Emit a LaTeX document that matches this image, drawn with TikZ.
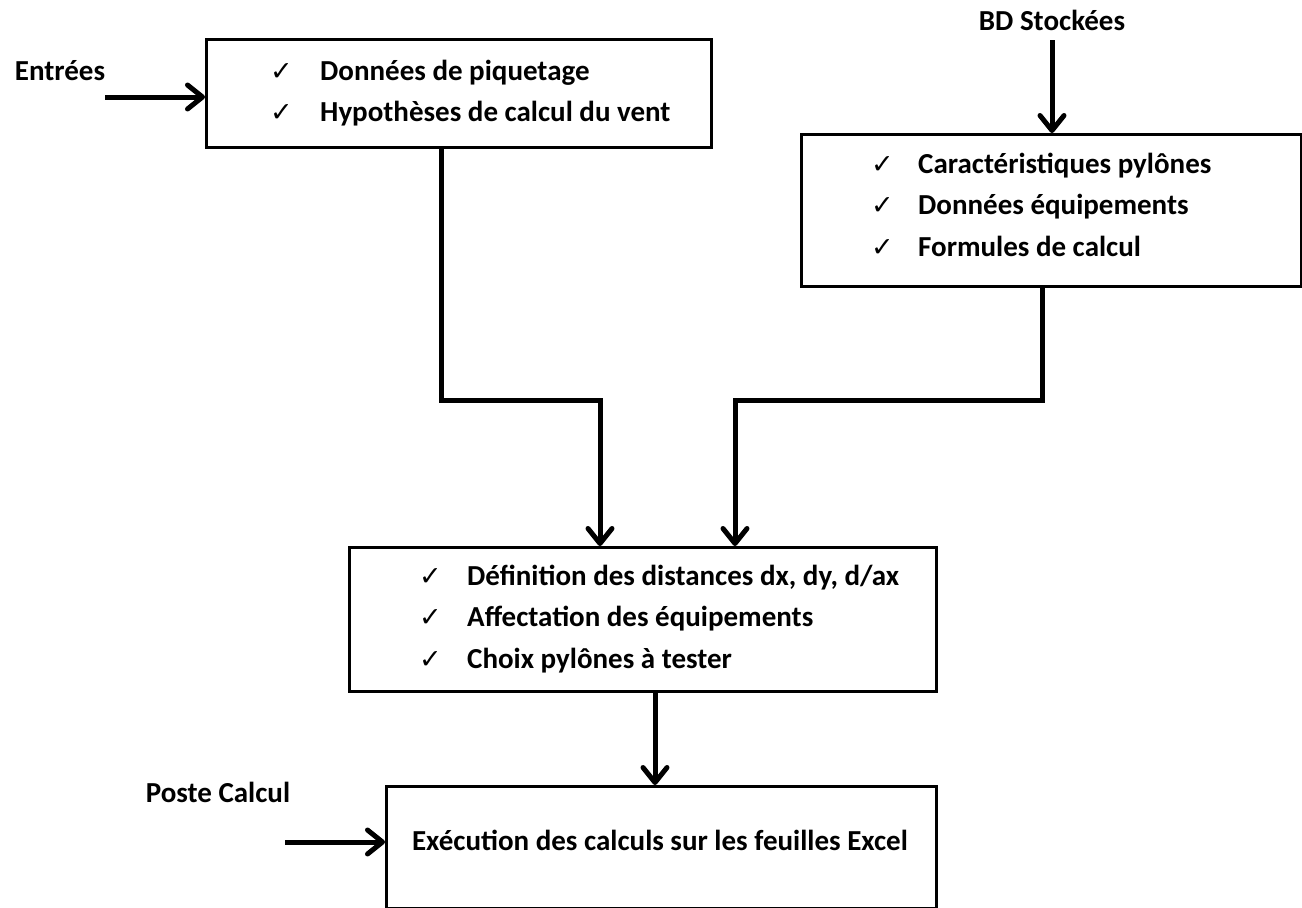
\documentclass[tikz,border=0pt]{standalone}
\usepackage{fontspec}
\setmainfont{Carlito}
\newfontfamily\symfont{DejaVu Sans}
\usetikzlibrary{arrows.meta}
\begin{document}
\begin{tikzpicture}[x=1pt,y=-1pt,
  box/.style={draw, line width=3pt, anchor=north west, inner sep=0pt},
  flow/.style={line width=5pt, line join=miter, -{Straight Barb[length=15pt,width=24pt,round]}},
  txt/.style={font=\bfseries\fontsize{29}{34}\selectfont, inner sep=0pt, anchor=base west},
  lbl/.style={font=\bfseries\fontsize{29}{34}\selectfont, inner sep=0pt, anchor=base},
  chk/.style={font=\symfont\fontsize{27}{30}\selectfont, inner sep=0pt, anchor=base west}
]
\useasboundingbox (0,0) rectangle (1302,908);

% boxes
\node[box, minimum width=505pt, minimum height=108pt] (b1) at (205,38) {};
\node[box, minimum width=500pt, minimum height=152pt] (b2) at (800,133) {};
\node[box, minimum width=587pt, minimum height=144pt] (b3) at (348,546) {};
\node[box, minimum width=550pt, minimum height=122pt] (b4) at (385,785) {};

% box 1 list
\node[chk] (k11) at (270,80) {✓};
\node[txt] (t11) at (320,80) {Données de piquetage};
\node[chk] (k12) at (270,121) {✓};
\node[txt] (t12) at (320,121) {Hypothèses de calcul du vent};

% box 2 list
\node[chk] (k21) at (871,173) {✓};
\node[txt] (t21) at (918,173) {Caractéristiques pylônes};
\node[chk] (k22) at (871,214) {✓};
\node[txt] (t22) at (918,214) {Données équipements};
\node[chk] (k23) at (871,256) {✓};
\node[txt] (t23) at (918,256) {Formules de calcul};

% box 3 list
\node[chk] (k31) at (419,585) {✓};
\node[txt] (t31) at (467,585) {Définition des distances dx, dy, d/ax};
\node[chk] (k32) at (419,626) {✓};
\node[txt] (t32) at (467,626) {Affectation des équipements};
\node[chk] (k33) at (419,668) {✓};
\node[txt] (t33) at (467,668) {Choix pylônes à tester};

% box 4 text
\node[lbl] (t41) at (660,850) {Exécution des calculs sur les feuilles Excel};

% outside labels
\node[lbl] (in1) at (60,80) {Entrées};
\node[lbl] (in2) at (1052,30) {BD Stockées};
\node[lbl] (in3) at (218,802) {Poste Calcul};

% connector ends
\coordinate (s1) at (105,97);
\coordinate (s2) at (1052,40);
\coordinate (s3) at (285,842);

% connectors
\draw[flow] (s1) -- (s1 -| b1.west);
\draw[flow] (s2) -- (s2 |- b2.north);
\draw[flow] (s3) -- (s3 -| b4.west);
\draw[flow] (b1.south -| 441,0) -- (441,400) -- (600,400) -- (600,400 |- b3.north);
\draw[flow] (b2.south -| 1042,0) -- (1042,400) -- (735,400) -- (735,400 |- b3.north);
\draw[flow] (b3.south -| 655,0) -- (655,0 |- b4.north);
\end{tikzpicture}
\end{document}
